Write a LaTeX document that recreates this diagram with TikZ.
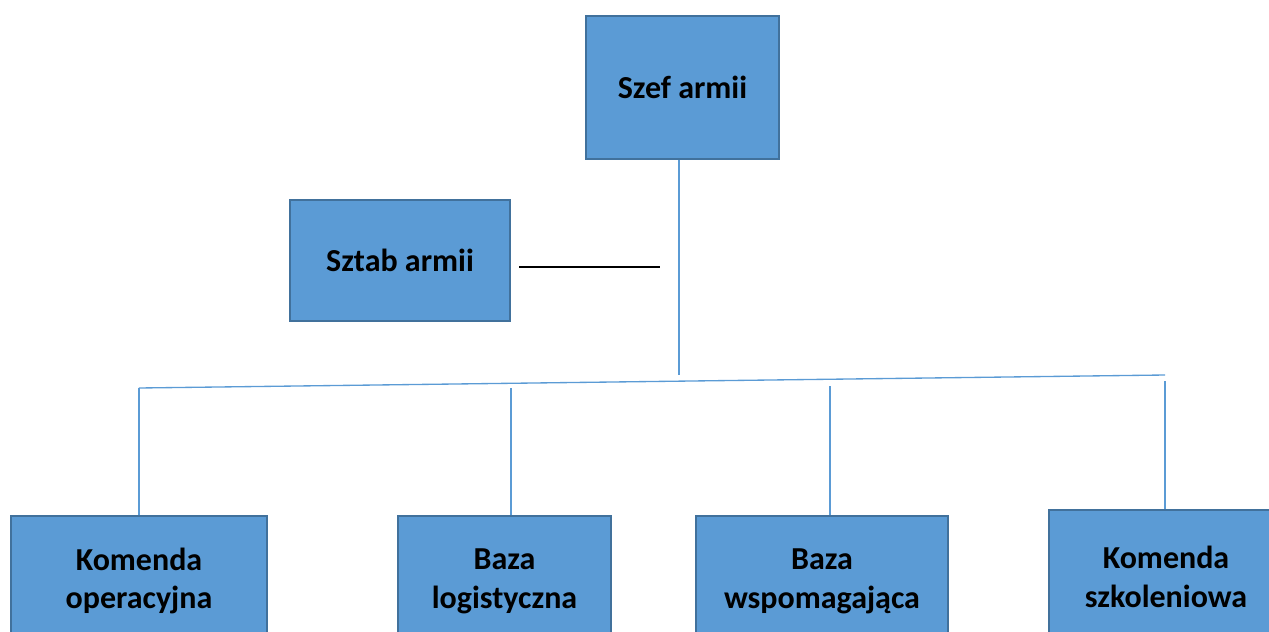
\documentclass[tikz,border=0pt]{standalone}
\usepackage{fontspec}
\setmainfont{Carlito}
\definecolor{boxfill}{HTML}{5B9BD5}
\definecolor{boxedge}{HTML}{41719C}
\begin{document}
\begin{tikzpicture}[x=0.75pt,y=-0.75pt,
  unit/.style={rectangle, draw=boxedge, line width=2pt, fill=boxfill, inner sep=0pt,
    align=center, font=\fontsize{24}{29}\selectfont\bfseries},
  link/.style={draw=boxfill, line width=1pt}]
\useasboundingbox (0,0) rectangle (1269,631);
\clip (0,0) rectangle (1269,631);
% top level
\node[unit, minimum width=144.75pt, minimum height=107.25pt] (szef) at (682.5,87.5) {Szef armii};
\node[unit, minimum width=165pt, minimum height=90.75pt] (sztab) at (400,260.5) {Sztab armii};
% bottom level
\node[unit, minimum width=192pt, minimum height=97.5pt] (kop) at (139,581) {Komenda\\operacyjna};
\node[unit, minimum width=159.75pt, minimum height=97.5pt] (blog) at (504.5,581) {Baza\\logistyczna};
\node[unit, minimum width=189pt, minimum height=97.5pt] (bwsp) at (822,581) {Baza\\wspomagająca};
\node[unit, minimum width=175.5pt, minimum height=100.5pt] (kszk) at (1166,577) {Komenda\\szkoleniowa};
% connectors
\coordinate (trunk) at (679,375);
\coordinate (left) at (139,388);
\coordinate (right) at (1165,375);
\coordinate (tblog) at (511,388);
\coordinate (tbwsp) at (830,386);
\coordinate (tkszk) at (1165,381);
\coordinate (sa) at (519,267);
\coordinate (sb) at (660,267);
\draw[link] (szef.south -| trunk) -- (trunk);
\draw[link] (left) -- (right);
\draw[link] (left) -- (kop.north);
\draw[link] (tblog) -- (tblog |- blog.north);
\draw[link] (tbwsp) -- (tbwsp |- bwsp.north);
\draw[link] (tkszk) -- (tkszk |- kszk.north);
\draw[line width=1pt] (sa) -- (sb);
\end{tikzpicture}
\end{document}
